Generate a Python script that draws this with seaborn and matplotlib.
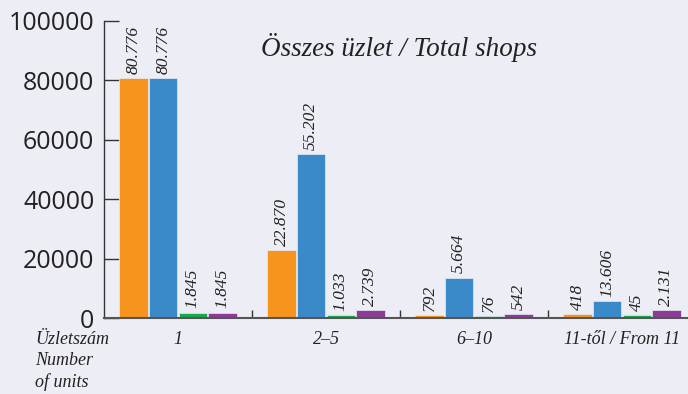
import matplotlib
matplotlib.use("Agg")
import matplotlib.pyplot as plt
import seaborn as sns
import pandas as pd

# ---- data ----
groups = ["1", "2–5", "6–10", "11-től / From 11"]
series = ["A", "B", "C", "D"]
orange_vals = [80776, 22870, 1000, 1200]
blue_vals = [80776, 55202, 13606, 5664]
green_vals = [1845, 1100, 600, 900]
purple_vals = [1845, 2739, 1200, 2700]
orange_labels = ["80.776", "22.870", "792", "418"]
blue_labels = ["80.776", "55.202", "5.664", "13.606"]
green_labels = ["1.845", "1.033", "76", "45"]
purple_labels = ["1.845", "2.739", "542", "2.131"]
y_ticks = [0, 20000, 40000, 60000, 80000, 100000]
title = "Összes üzlet / Total shops"
ylab = "Üzletszám\nNumber\nof units"
colors = ["#F7941E", "#3A89C9", "#16A84A", "#8C3B97"]

rows = []
for s, vals in zip(series, [orange_vals, blue_vals, green_vals, purple_vals]):
    for g, v in zip(groups, vals):
        rows.append({"group": g, "series": s, "value": v})
df = pd.DataFrame(rows)
all_labels = [orange_labels, blue_labels, green_labels, purple_labels]

sns.set_theme(style="white")
bg = "#EDEDF5"
fig = plt.figure(figsize=(6.88, 3.94), dpi=100, facecolor=bg)
ax = fig.add_axes([104/688, 1-318/394, (688-104)/688, 297/394])
ax.set_facecolor("none")

sns.barplot(data=df, x="group", y="value", hue="series", order=groups,
            hue_order=series, palette=colors, width=0.8, gap=0.04,
            edgecolor="#e4ecf4", linewidth=0.5, saturation=1,
            legend=False, ax=ax)

serif = "Liberation Serif"
for cont, labs in zip(ax.containers, all_labels):
    ax.bar_label(cont, labels=labs, rotation=90, padding=3,
                 fontsize=12.5, fontstyle="italic", family=serif, color="#222222")

ax.set_xlim(-0.5, 3.446)
ax.set_ylim(0, 100000)
ax.set_yticks(y_ticks)
ax.set_yticklabels([str(t) for t in y_ticks], family="Open Sans", fontsize=18, color="#222222")
ax.tick_params(axis="y", direction="in", length=11, width=1, color="#333333", pad=7, left=True)
ax.set_xticks(range(len(groups)))
ax.set_xticklabels(groups, family=serif, fontstyle="italic", fontsize=13, color="#222222")
ax.tick_params(axis="x", which="major", length=0, pad=9)
ax.set_xticks([0.5, 1.5, 2.5], minor=True)
ax.tick_params(axis="x", which="minor", direction="in", length=6, width=1, color="#333333", bottom=True)
ax.set_xlabel("")
ax.set_ylabel("")
for side in ["top", "right"]:
    ax.spines[side].set_visible(False)
ax.spines["left"].set_color("#333333")
ax.spines["left"].set_linewidth(1)
ax.spines["bottom"].set_color("#555555")
ax.spines["bottom"].set_linewidth(1.5)

fig.text(399/688, 1-48/394, title, ha="center", va="center", family=serif,
         fontstyle="italic", fontsize=19.5, color="#222222")
fig.text(35/688, 1-331/394, ylab, ha="left", va="top", family=serif,
         fontstyle="italic", fontsize=13, linespacing=1.3, color="#222222")

fig.savefig("out.png", dpi=100, facecolor=bg)
